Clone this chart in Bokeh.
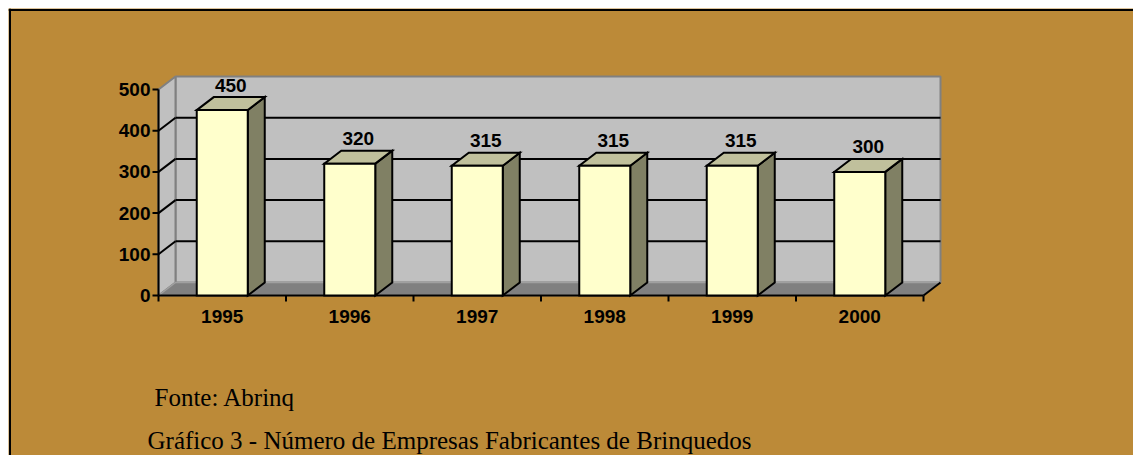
from bokeh.plotting import figure
from bokeh.models import Range1d, Label, ColumnDataSource
from bokeh.embed import file_html
from bokeh.resources import INLINE
from bokeh.core.properties import value

# ---------------- data ----------------
years = ["1995", "1996", "1997", "1998", "1999", "2000"]
empresas = [450, 320, 315, 315, 315, 300]
y_ticks = [0, 100, 200, 300, 400, 500]
y_tick_labels = ["0", "100", "200", "300", "400", "500"]
fonte = "Fonte: Abrinq"
titulo = "Gráfico 3 - Número de Empresas Fabricantes de Brinquedos"

# ---------------- layout / style ----------------
W, H = 1133, 455
OFF_L, OFF_T = 8, 8
FW, FH = W - OFF_L, H - OFF_T   # frame size
PX_PER_CAT = 127.5          # pixels per category
PX_PER_UNIT = 0.412         # pixels per value unit
AXIS_X_PX = 150             # x of front value axis (from left of frame)
ZERO_Y_PX = 287             # y of value 0 (from top of frame)
DEPTH_X_PX, DEPTH_Y_PX = 17, 13
BAR_W = 0.4
YMAX = 500

BG = "#BC8A38"
WALL = "#C0C0C0"
FLOOR = "#808080"
FRONT = "#FFFFCC"
SIDE = "#808064"
TOP = "#C0C09C"
FONT = "Liberation Sans"
SERIF = "Liberation Serif"

dx = DEPTH_X_PX / PX_PER_CAT
dy = DEPTH_Y_PX / PX_PER_UNIT
n = len(years)

x0 = -AXIS_X_PX / PX_PER_CAT
x1 = (FW - AXIS_X_PX) / PX_PER_CAT
y1 = ZERO_Y_PX / PX_PER_UNIT
y0 = (ZERO_Y_PX - FH) / PX_PER_UNIT


def px_x(px):  # frame pixel -> data x
    return (px - AXIS_X_PX) / PX_PER_CAT


def px_y(py):  # frame pixel (from top) -> data y
    return (ZERO_Y_PX - py) / PX_PER_UNIT


p = figure(width=W, height=H, output_backend="svg", toolbar_location=None,
           x_range=Range1d(x0, x1), y_range=Range1d(y0, y1),
           min_border_left=OFF_L, min_border_top=OFF_T,
           min_border_right=0, min_border_bottom=0,
           background_fill_color=BG, border_fill_color="white")
p.axis.visible = False
p.grid.visible = False
p.outline_line_color = None

# outer border (top and left edges; right/bottom fall outside the picture)
p.segment(x0=[px_x(1.5)], y0=[px_y(0)], x1=[px_x(1.5)], y1=[px_y(FH)],
          line_color="black", line_width=2)
p.segment(x0=[px_x(0)], y0=[px_y(1.5)], x1=[px_x(FW)], y1=[px_y(1.5)],
          line_color="black", line_width=2)

# back wall
p.quad(left=[dx], right=[n + dx], bottom=[dy], top=[YMAX + dy],
       fill_color=WALL, line_color="#808080", line_width=2)
# left wall
p.patch([0, dx, dx, 0], [0, dy, YMAX + dy, YMAX],
        fill_color=WALL, line_color="#808080", line_width=2)
# floor
p.patch([0, n, n + dx, dx], [0, 0, dy, dy],
        fill_color=FLOOR, line_color="#A0A0A0", line_width=1.5)

# gridlines on back wall and left wall
grid_vals = [v for v in y_ticks if 0 < v < YMAX]
p.segment(x0=[dx] * len(grid_vals), x1=[n + dx] * len(grid_vals),
          y0=[v + dy for v in grid_vals], y1=[v + dy for v in grid_vals],
          line_color="black", line_width=2)
p.segment(x0=[0] * len(grid_vals), x1=[dx] * len(grid_vals),
          y0=grid_vals, y1=[v + dy for v in grid_vals],
          line_color="black", line_width=2)

# right floor edge
p.segment(x0=[n], y0=[0], x1=[n + dx], y1=[dy], line_color="black", line_width=2)

# front axes
p.segment(x0=[0], y0=[0], x1=[0], y1=[YMAX], line_color="black", line_width=2)
p.segment(x0=[0], y0=[0], x1=[n], y1=[0], line_color="black", line_width=2)
tick_len_x = 6 / PX_PER_CAT
tick_len_y = 6 / PX_PER_UNIT
p.segment(x0=[-tick_len_x] * len(y_ticks), x1=[0] * len(y_ticks),
          y0=y_ticks, y1=y_ticks, line_color="black", line_width=2)
bounds = list(range(n + 1))
p.segment(x0=bounds, x1=bounds, y0=[0] * len(bounds), y1=[-tick_len_y] * len(bounds),
          line_color="black", line_width=2)

# bars
centers = [i + 0.5 for i in range(n)]
lefts = [c - BAR_W / 2 for c in centers]
rights = [c + BAR_W / 2 for c in centers]
side_xs = [[r, r + dx, r + dx, r] for r in rights]
side_ys = [[0, dy, v + dy, v] for v in empresas]
top_xs = [[l, r, r + dx, l + dx] for l, r in zip(lefts, rights)]
top_ys = [[v, v, v + dy, v + dy] for v in empresas]

p.patches(side_xs, side_ys, fill_color=SIDE, line_color="black", line_width=2,
          line_join="miter")
p.patches(top_xs, top_ys, fill_color=TOP, line_color="black", line_width=2,
          line_join="miter")
p.quad(left=lefts, right=rights, bottom=[0] * n, top=empresas,
       fill_color=FRONT, line_color="black", line_width=2, line_join="miter")

# value labels
lab_src = ColumnDataSource(dict(x=[c + dx / 2 for c in centers],
                                y=[v + dy for v in empresas],
                                t=[str(v) for v in empresas]))
p.text(x="x", y="y", text="t", source=lab_src, text_align="center",
       text_baseline="middle", y_offset=-12,
       text_font=value(FONT), text_font_style="bold", text_font_size="19px",
       text_color="black")

# y tick labels
p.text(x=[0] * len(y_ticks), y=y_ticks, text=y_tick_labels, text_align="right",
       text_baseline="middle", x_offset=-8,
       text_font=value(FONT), text_font_style="bold", text_font_size="19px",
       text_color="black")

# x tick labels
p.text(x=centers, y=[0] * n, text=years, text_align="center",
       text_baseline="middle", y_offset=21,
       text_font=value(FONT), text_font_style="bold", text_font_size="19px",
       text_color="black")

# footer texts
p.add_layout(Label(x=px_x(146), y=px_y(389),
                   text=fonte, text_font=SERIF, text_font_size="25px",
                   text_baseline="middle", text_color="black"))
p.add_layout(Label(x=px_x(139), y=px_y(432),
                   text=titulo, text_font=SERIF, text_font_size="25px",
                   text_baseline="middle", text_color="black"))

open("out.html", "w").write(file_html(p, INLINE))
